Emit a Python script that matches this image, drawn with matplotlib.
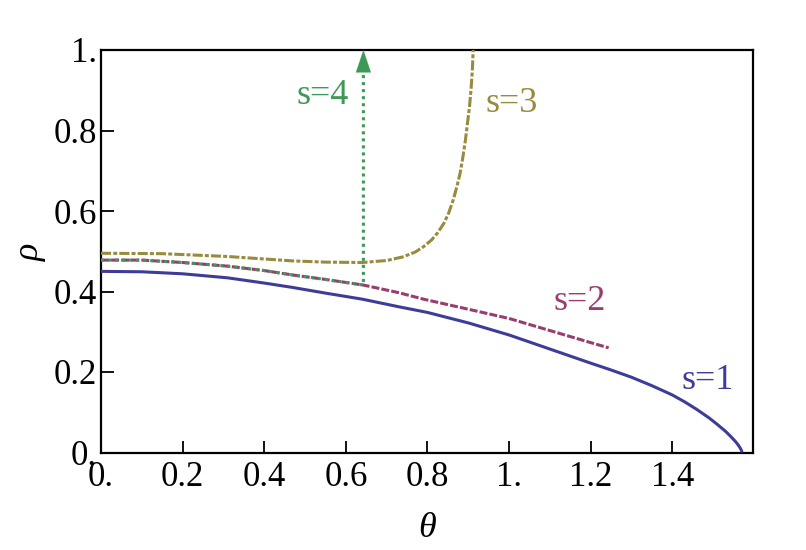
import matplotlib
matplotlib.use("Agg")
import matplotlib.pyplot as plt

# ---- data ----
theta_s1 = [0.0, 0.1, 0.2, 0.31, 0.4, 0.47, 0.55, 0.64, 0.73, 0.8, 0.9, 1.0, 1.1, 1.2,
            1.25, 1.3, 1.35, 1.4, 1.43, 1.46, 1.49, 1.51, 1.53, 1.545, 1.555, 1.562,
            1.567, 1.5695, 1.5708]
rho_s1 = [0.450, 0.449, 0.444, 0.434, 0.421, 0.410, 0.396, 0.381, 0.362, 0.348, 0.322,
          0.292, 0.257, 0.222, 0.205, 0.187, 0.166, 0.143, 0.126, 0.107, 0.086, 0.070,
          0.053, 0.038, 0.027, 0.018, 0.010, 0.005, 0.0]

theta_s2 = [0.0, 0.1, 0.2, 0.31, 0.4, 0.47, 0.55, 0.643, 0.73, 0.79, 0.9, 1.0, 1.1,
            1.2, 1.244]
rho_s2 = [0.478, 0.478, 0.472, 0.463, 0.452, 0.441, 0.430, 0.416, 0.397, 0.381, 0.356,
          0.333, 0.303, 0.273, 0.260]

theta_s3 = [0.0, 0.15, 0.31, 0.47, 0.55, 0.64, 0.70, 0.74, 0.77, 0.79, 0.81, 0.825,
            0.84, 0.852, 0.863, 0.872, 0.88, 0.887, 0.893, 0.898, 0.903, 0.907, 0.91,
            0.912]
rho_s3 = [0.495, 0.494, 0.487, 0.476, 0.473, 0.472, 0.477, 0.486, 0.498, 0.511, 0.528,
          0.546, 0.569, 0.595, 0.627, 0.660, 0.694, 0.735, 0.776, 0.818, 0.859, 0.905,
          0.950, 1.0]

theta_s4 = [0.0, 0.1, 0.2, 0.31, 0.4, 0.47, 0.55, 0.643, 0.643]
rho_s4 = [0.478, 0.478, 0.472, 0.463, 0.452, 0.441, 0.430, 0.416, 0.96]
arrow_tip = (0.643, 1.0)

x_ticks = [0.0, 0.2, 0.4, 0.6, 0.8, 1.0, 1.2, 1.4]
x_tick_labels = ["0.", "0.2", "0.4", "0.6", "0.8", "1.", "1.2", "1.4"]
y_ticks = [0.0, 0.2, 0.4, 0.6, 0.8, 1.0]
y_tick_labels = ["0.", "0.2", "0.4", "0.6", "0.8", "1."]

series_labels = ["s=1", "s=2", "s=3", "s=4"]

# ---- styling ----
c1 = (0.24, 0.24, 0.6)
c2 = (0.6, 0.24, 0.443)
c3 = (0.6, 0.547, 0.24)
c4 = (0.24, 0.6, 0.337)

SERIF = "Liberation Serif"
plt.rcParams["font.family"] = [SERIF, "DejaVu Serif"]

fig = plt.figure(figsize=(8.06, 5.5), dpi=100)
W, H = 806, 550
left, right, top, bottom = 101, 752.7, 50, 452.5
ax = fig.add_axes([left / W, 1 - bottom / H, (right - left) / W, (bottom - top) / H])

lw = 2.2
ax.plot(theta_s1, rho_s1, color=c1, lw=lw, solid_capstyle="butt",
        solid_joinstyle="round", zorder=3)
ax.plot(theta_s2, rho_s2, color=c2, lw=lw, linestyle=(0, (2.6, 0.7)),
        dash_capstyle="butt", zorder=4)
ax.plot(theta_s3, rho_s3, color=c3, lw=lw, linestyle=(0, (3.3, 0.7, 1.3, 0.7)),
        dash_capstyle="butt", zorder=4)
ax.plot(theta_s4, rho_s4, color=c4, lw=lw, linestyle=(0, (1.0, 1.3)),
        dash_capstyle="butt", zorder=5)

ax.annotate("", xy=arrow_tip, xytext=(arrow_tip[0], rho_s4[-1] - 0.01),
            arrowprops=dict(arrowstyle="-|>,head_length=0.8,head_width=0.27",
                            mutation_scale=20, color=c4, lw=0.1,
                            shrinkA=0, shrinkB=0),
            annotation_clip=False, zorder=6)

fs = 25
lfs = 26
ax.text(0.608, 0.866, series_labels[3], color=c4, fontsize=lfs, ha="right", va="baseline")
ax.text(0.941, 0.847, series_labels[2], color=c3, fontsize=lfs, ha="left", va="baseline")
ax.text(1.110, 0.354, series_labels[1], color=c2, fontsize=lfs, ha="left", va="baseline")
ax.text(1.422, 0.158, series_labels[0], color=c1, fontsize=lfs, ha="left", va="baseline")

ax.set_xlim(0, 1.597)
ax.set_ylim(0, 1.0)
ax.set_xticks(x_ticks)
ax.set_xticklabels(x_tick_labels)
ax.set_yticks(y_ticks)
ax.set_yticklabels(y_tick_labels)
ax.tick_params(axis="both", direction="in", length=9, width=1.3, labelsize=fs,
               top=False, right=False)
ax.tick_params(axis="x", pad=6)
ax.tick_params(axis="y", pad=3)
for sp in ax.spines.values():
    sp.set_linewidth(1.6)

ax.set_xlabel("θ", fontsize=26, fontstyle="italic")
ax.xaxis.set_label_coords(0.5, -0.1876)
ax.xaxis.label.set_va("center")
ax.set_ylabel("ρ", fontsize=26, fontstyle="italic")
ax.yaxis.set_label_coords(-0.109, 0.498)
ax.yaxis.label.set_va("center")
ax.yaxis.label.set_ha("center")

fig.savefig("out.png", dpi=100)
